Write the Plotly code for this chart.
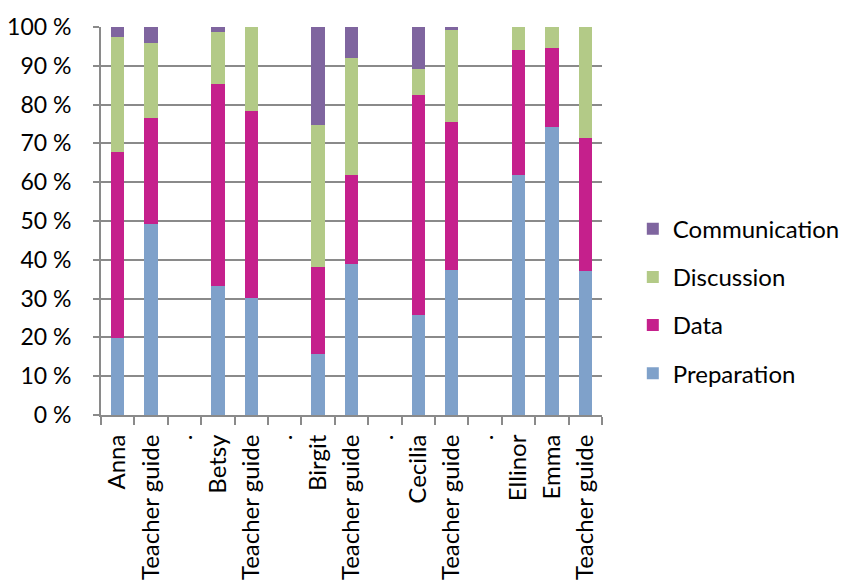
import plotly.graph_objects as go

# Category labels along the x axis (gaps between groups are shown as ".")
categories = ["Anna", "Teacher guide", ".", "Betsy", "Teacher guide", ".",
              "Birgit", "Teacher guide", ".", "Cecilia", "Teacher guide", ".",
              "Ellinor", "Emma", "Teacher guide"]

# Share of each activity type (percent), None for the spacer columns
preparation   = [19.8, 49.3, None, 33.3, 30.2, None, 15.6, 38.9, None, 25.8, 37.4, None, 61.9, 74.3, 37.1]
data          = [48.1, 27.3, None, 52.1, 48.2, None, 22.5, 23.0, None, 56.6, 38.2, None, 32.2, 20.4, 34.3]
discussion    = [29.4, 19.4, None, 13.4, 21.6, None, 36.6, 30.1, None,  6.9, 23.5, None,  5.9,  5.3, 28.6]
communication = [ 2.7,  4.0, None,  1.2,  0.0, None, 25.3,  8.0, None, 10.7,  0.9, None,  0.0,  0.0,  0.0]

y_tickvals = [0, 10, 20, 30, 40, 50, 60, 70, 80, 90, 100]
y_ticktext = ["0 %", "10 %", "20 %", "30 %", "40 %", "50 %", "60 %", "70 %", "80 %", "90 %", "100 %"]

# (name, values, colour, legend rank) - stacked bottom to top, listed top to bottom
series = [
    ("Preparation", preparation, "#7fa1ca", 4),
    ("Data", data, "#c5208c", 3),
    ("Discussion", discussion, "#b3ca87", 2),
    ("Communication", communication, "#7f659f", 1),
]

positions = list(range(len(categories)))
FONT = "Lato"
GRID = "#8a8a8a"

fig = go.Figure()
for name, values, color, rank in series:
    fig.add_trace(go.Bar(
        x=positions, y=values, name=name, legendgroup=name, legendrank=rank,
        marker=dict(color=color, line=dict(width=0)),
        width=0.4,
    ))

fig.update_layout(
    barmode="stack",
    width=846, height=587,
    margin=dict(l=101, r=244, t=27, b=172, autoexpand=False),
    paper_bgcolor="white", plot_bgcolor="white",
    font=dict(family=FONT, size=23, color="#000000"),
    showlegend=True,
    legend=dict(
        traceorder="grouped",
        tracegroupgap=14,
        font=dict(family=FONT, size=24, color="#000000"),
        xref="container", yref="container",
        x=0.748, y=0.648, xanchor="left", yanchor="top",
        bgcolor="rgba(0,0,0,0)",
        itemwidth=30,
    ),
)

fig.update_xaxes(
    automargin=False,
    range=[-0.5, len(categories) - 0.5],
    tickmode="array", tickvals=positions, ticktext=categories,
    tickangle=-90, ticks="", showgrid=False,
    showline=True, linecolor=GRID, linewidth=2,
    ticklabelstandoff=8,
    minor=dict(tickmode="array",
               tickvals=[p - 0.5 for p in positions] + [positions[-1] + 0.5],
               ticks="outside", ticklen=8, tickcolor=GRID, tickwidth=2,
               showgrid=False),
    tickfont=dict(family=FONT, size=24, color="#000000"),
    zeroline=False,
)

fig.update_yaxes(
    automargin=False,
    range=[0, 100],
    tickmode="array", tickvals=y_tickvals, ticktext=y_ticktext,
    ticks="outside", ticklen=6, tickcolor=GRID, tickwidth=2,
    showgrid=True, gridcolor=GRID, gridwidth=2,
    showline=True, linecolor=GRID, linewidth=2,
    zeroline=False,
    ticklabelstandoff=17,
    tickfont=dict(family=FONT, size=23, color="#000000"),
)

fig.write_html("out.html")
